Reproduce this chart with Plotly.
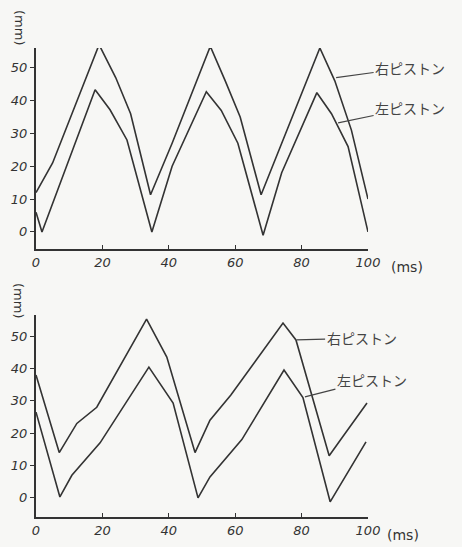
import plotly.graph_objects as go

# ---- data (top chart) ----
top_right_t = [0, 5, 19, 24, 28.5, 34.5, 41, 52.5, 57, 61.5, 67.8, 74, 85.5, 90, 95, 100]
top_right_y = [12, 21, 57, 47, 36, 11.3, 27, 56.5, 46, 35, 11.3, 27, 56, 46, 31, 10]
top_left_t = [0, 1.8, 17.8, 22.3, 27.4, 34.9, 41, 51.3, 55.8, 60.8, 68.4, 74, 84.6, 89, 94, 100]
top_left_y = [6, 0, 43.3, 37.2, 28, 0, 20, 42.7, 37, 27, -1, 18, 42.4, 36, 26, 0]

# ---- data (bottom chart) ----
bot_right_t = [0, 7, 12.3, 18.3, 33.3, 39.4, 47.9, 52.4, 58.7, 74.4, 78.3, 88.3, 91.9, 99.7]
bot_right_y = [38, 14, 23, 28, 55.2, 43.5, 14, 24, 31.8, 54, 48.8, 13, 18.2, 29.3]
bot_left_t = [0, 7.2, 10.8, 19.3, 34, 41.3, 48.8, 52.4, 62, 74.7, 80.4, 88.6, 99.4]
bot_left_y = [26.5, 0.3, 7, 17, 40.4, 29.3, 0, 6.5, 18, 39.5, 31, -1.2, 17.3]

x_ticks = [0, 20, 40, 60, 80, 100]
y_ticks = [0, 10, 20, 30, 40, 50]
label_right = "右ピストン"
label_left = "左ピストン"
x_unit = "(ms)"
y_unit = "(mm)"

W, H = 462, 547
line_color = "#333333"
bg = "#f7f7f5"

fig = go.Figure()
for t, y, xa, ya in [(top_right_t, top_right_y, "x", "y"), (top_left_t, top_left_y, "x", "y"),
                     (bot_right_t, bot_right_y, "x2", "y2"), (bot_left_t, bot_left_y, "x2", "y2")]:
    fig.add_trace(go.Scatter(x=t, y=y, xaxis=xa, yaxis=ya, mode="lines",
                             line=dict(color=line_color, width=1.6), showlegend=False,
                             hoverinfo="skip"))

tickfont = dict(family="DejaVu Sans", size=13, color="#333333", style="italic")
common_x = dict(range=[0, 100], tickvals=x_ticks, showgrid=False, zeroline=False,
                showline=True, linecolor=line_color, linewidth=2, ticks="inside",
                ticklen=4, tickcolor=line_color, tickfont=tickfont, fixedrange=True,
                automargin=False)
common_y = dict(tickvals=y_ticks, showgrid=False, zeroline=False,
                showline=True, linecolor=line_color, linewidth=2, ticks="outside",
                ticklen=4, tickcolor=line_color, tickfont=tickfont, fixedrange=True,
                automargin=False)

xd = [36 / W, 368 / W]
fig.update_layout(
    width=W, height=H, margin=dict(l=0, r=0, t=0, b=0, autoexpand=False),
    paper_bgcolor=bg, plot_bgcolor=bg,
    xaxis=dict(domain=xd, anchor="y", **common_x),
    yaxis=dict(domain=[1 - 249 / H, 1 - 48 / H], range=[-5.2, 56], anchor="x", **common_y),
    xaxis2=dict(domain=xd, anchor="y2", **common_x),
    yaxis2=dict(domain=[1 - 517 / H, 1 - 315 / H], range=[-5.9, 56.5], anchor="x2", **common_y),
)

lab_font = dict(family="Noto Sans CJK JP", size=14, color="#444444")
ann = []
for xr, yr, x, y, ax, ay, txt in [
    ("x", "y", 90.4, 47, 74, -10, label_right),
    ("x", "y", 91, 33.2, 72, -15, label_left),
    ("x2", "y2", 78.5, 48.8, 65, -2, label_right),
    ("x2", "y2", 81, 31.2, 67, -17, label_left),
]:
    ann.append(dict(xref=xr, yref=yr, x=x, y=y, ax=ax, ay=ay, text=txt, showarrow=True,
                    arrowhead=0, arrowwidth=1.2, arrowcolor="#444444", font=lab_font,
                    standoff=0))
# axis unit labels
unit_font = dict(family="DejaVu Sans", size=13, color="#333333")
for x, y, txt, ang in [(20, 27, y_unit, 90), (19, 300, y_unit, 90),
                       (407, 267, x_unit, 0), (403, 535, x_unit, 0)]:
    ann.append(dict(xref="paper", yref="paper", x=x / W, y=1 - y / H, text=txt, textangle=ang,
                    xanchor="center", yanchor="middle", showarrow=False,
                    font=dict(unit_font, size=14 if ang == 0 else 13)))
fig.update_layout(annotations=ann)

fig.write_html("out.html", post_script="document.body.style.margin='0';",
               config={"displayModeBar": False})
